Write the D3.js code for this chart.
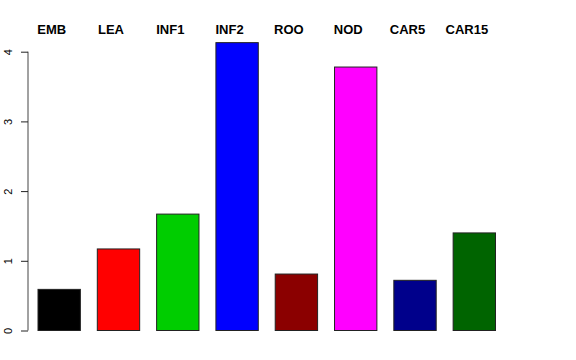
<!DOCTYPE html>
<html>
<head>
<meta charset="utf-8">
<script src="https://cdnjs.cloudflare.com/ajax/libs/d3/7.8.5/d3.min.js"></script>
<style>
body { margin: 0; background: #fff; }
text { font-family: "Liberation Sans", Arial, sans-serif; }
</style>
</head>
<body>
<div id="chart"></div>
<script>
let width = 576,
	height = 360;

// values
let categories = ["EMB", "LEA", "INF1", "INF2", "ROO", "NOD", "CAR5", "CAR15"];
let values = [0.59, 1.17, 1.67, 4.13, 0.81, 3.78, 0.72, 1.40];
let barColors = ["#000000", "#ff0000", "#00cd00", "#0000ff", "#8b0000", "#ff00ff", "#00008b", "#006400"];
let yTicks = [0, 1, 2, 3, 4];

let svg = d3.select('#chart').append('svg')
	.attr('width', width)
	.attr('height', height)

// band scale mimics barplot space = 0.4
let x = d3.scaleBand()
	.domain(categories)
	.range([38, 495.5])
	.paddingInner(0.4 / 1.4)
	.paddingOuter(0);

let y = d3.scaleLinear()
	.domain([0, 4])
	.range([330.5, 51.7]);

// y axis
let yAxis = d3.axisLeft(y)
	.tickValues(yTicks)
	.tickSize(7)
	.tickPadding(0)
	.tickFormat(d3.format("d"));

let ga = svg.append("g")
	.attr("transform", "translate(28,0)")
	.call(yAxis);

ga.select(".domain").attr("stroke", "#444").attr("d", "M0," + y(4) + "V" + y(0));
ga.selectAll(".tick line").attr("stroke", "#222");
ga.selectAll(".tick text")
	.attr("font-size", 11)
	.attr("fill", "#000")
	.attr("text-anchor", "middle")
	.attr("transform", "translate(-20,0) rotate(-90)")
	.attr("x", 0)
	.attr("dy", "0.35em")
	.attr("y", 0);

// bars
svg.selectAll('.bar')
	.data(values)
	.enter().append('rect').classed('bar', true)
	.attr('x', function (d, i) { return x(categories[i]); })
	.attr('y', function (d) { return y(d); })
	.attr('width', x.bandwidth())
	.attr('height', function (d) { return y(0) - y(d); })
	.attr('fill', function (d, i) { return barColors[i]; })
	.attr('stroke', '#222')
	.attr('stroke-width', 1);

// labels above, a little left of the bar centres
svg.selectAll('.lab')
	.data(categories)
	.enter().append('text').classed('lab', true)
	.attr('x', function (d) { return x(d) + x.bandwidth() / 2 - 7.5; })
	.attr('y', 34)
	.attr('text-anchor', 'middle')
	.attr('font-size', 13)
	.attr('font-weight', 'bold')
	.text(function (d) { return d; });
</script>
</body>
</html>
